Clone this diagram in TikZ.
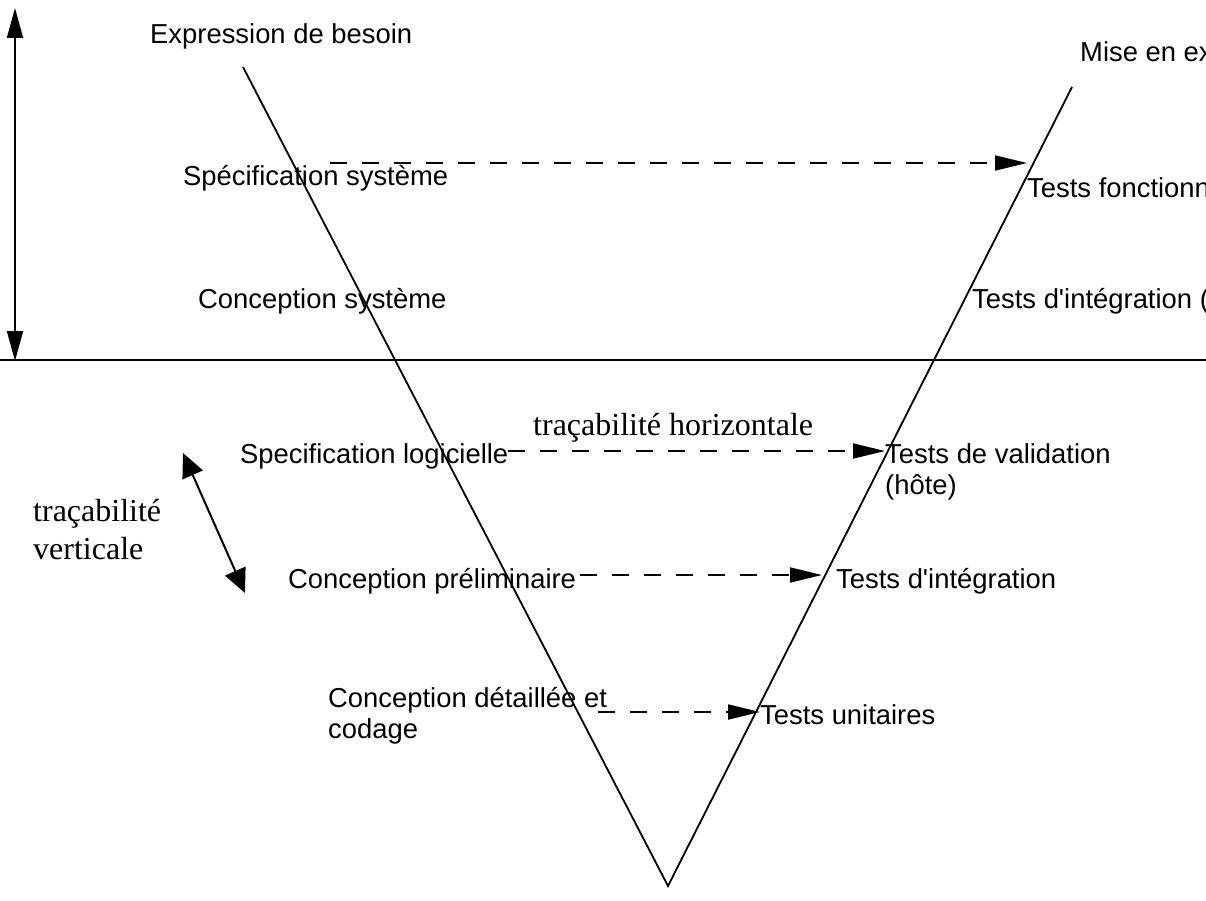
\documentclass[tikz,border=0pt]{standalone}
\usepackage{fontspec}
\setmainfont{Liberation Serif}
\newfontfamily\labelfont{Liberation Sans}[Ligatures=TeXOff]
\usetikzlibrary{arrows.meta,calc}

\begin{document}
\begin{tikzpicture}[x=1pt,y=-1pt,
  line/.style={line width=1.8pt, line join=miter},
  lbl/.style={font=\labelfont\fontsize{27.4}{31}\selectfont, inner sep=0pt,
    anchor=base west, align=left},
  note/.style={font=\rmfamily\fontsize{32}{38}\selectfont, inner sep=0pt,
    anchor=base west, align=left},
  trace/.style={line width=1.8pt, dash pattern=on 17pt off 15pt,
    -{Triangle[length=32pt,width=15pt]}},
  bigarrow/.style={line width=1.8pt,
    {Triangle[length=30pt,width=16pt]}-{Triangle[length=30pt,width=16pt]}},
  vtrace/.style={line width=2pt,
    {Triangle[length=24pt,width=22pt]}-{Triangle[length=24pt,width=22pt]}}
]
\useasboundingbox (0,0) rectangle (1206,901);
\clip (0,0) rectangle (1206,901);

% the V of the life cycle
\coordinate (vl) at (243,67);
\coordinate (vb) at (668,886);
\coordinate (vr) at (1072,87);
\draw[line] (vl) -- (vb) -- (vr);

% system / software boundary
\coordinate (hl) at (0,360);
\coordinate (hr) at (1206,360);
\draw[line] (hl) -- (hr);

% system level extent
\coordinate (at) at (15,8);
\coordinate (ab) at (15,361);
\draw[bigarrow] (ab) -- (at);

% descending branch (two-line labels are placed by their last line)
\node[lbl] (eb) at (150,44) {Expression de besoin};
\node[lbl] (ss) at (183,186) {Spécification système};
\node[lbl] (cs) at (198,308) {Conception système};
\node[lbl] (sl) at (240,463) {Specification logicielle};
\node[lbl] (cp) at (288,588) {Conception préliminaire};
\node[lbl] (cd) at (328,738) {Conception détaillée et\\codage};

% ascending branch
\node[lbl] (me) at (1080,62) {Mise en exploitation};
\node[lbl] (tf) at (1027,198) {Tests fonctionnels};
\node[lbl] (tis) at (972,308) {Tests d'intégration (système)};
\node[lbl] (tv) at (885,494) {Tests de validation\\(hôte)};
\node[lbl] (ti) at (836,588) {Tests d'intégration};
\node[lbl] (tu) at (760,724) {Tests unitaires};

% traceability
\node[note] (th) at (533,435) {traçabilité horizontale};
\node[note] (tvl) at (33,559) {traçabilité\\verticale};

\coordinate (vt1) at (183,453);
\coordinate (vt2) at (245,593);
\draw[vtrace] (vt1) -- (vt2);

\coordinate (d1) at (330,163);
\draw[trace] (d1) -- (tf.west |- d1);

\draw[trace] ($(sl.base east)+(0,-12)$) coordinate (d2) -- (tv.west |- d2);
\draw[trace] ($(cp.base east)+(4,-13)$) coordinate (d3) --
  ([xshift=-14pt]ti.west |- d3);
\draw[trace] (598,712) coordinate (d4) -- (tu.west |- d4);
\end{tikzpicture}
\end{document}
